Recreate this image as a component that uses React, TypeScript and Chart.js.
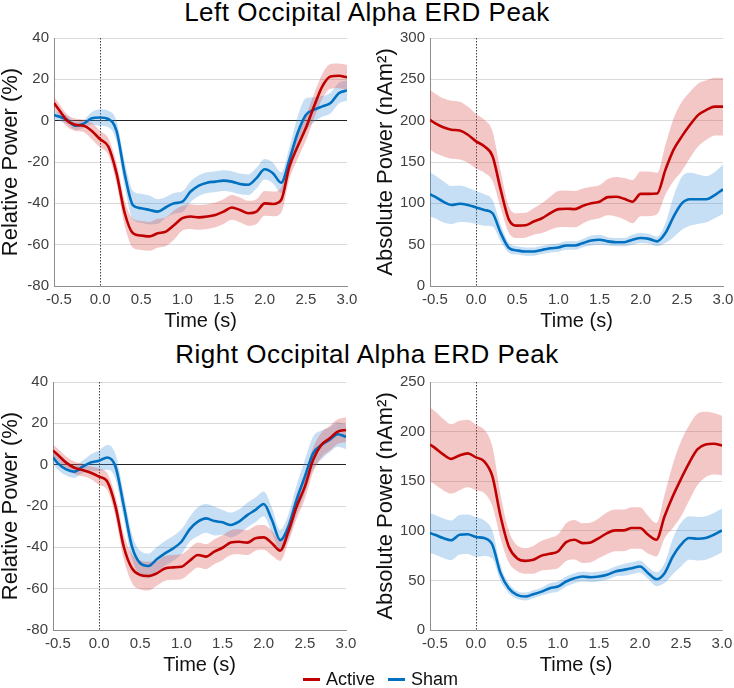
import React, { useEffect, useRef } from "react";
import { Chart, registerables } from "chart.js";

Chart.register(...registerables);

const FONT = '"Liberation Sans", Arial, Helvetica, sans-serif';

// Time axis samples (s)
const TIME = [-0.56, -0.5, -0.4, -0.3, -0.2, -0.1, 0.0, 0.1, 0.2, 0.3, 0.4, 0.5, 0.6, 0.7, 0.8, 0.9, 1.0, 1.1, 1.2, 1.3, 1.4, 1.5, 1.6, 1.7, 1.8, 1.9, 2.0, 2.1, 2.2, 2.3, 2.4, 2.5, 2.6, 2.7, 2.8, 2.9, 3.0];
const X_TICKS = [-0.5, 0.0, 0.5, 1.0, 1.5, 2.0, 2.5, 3.0];

// Left occipital, relative power (%)
const LREL_ACTIVE = [8.5, 5.3, 0, -2, -2.5, -5, -9, -12.5, -25.5, -44.8, -54.5, -55.6, -56, -54.5, -53.7, -50.5, -47.2, -46.4, -46.8, -46.4, -45.6, -44, -42, -43.2, -44.8, -44, -40, -40.3, -38.4, -22.2, -12.5, -3.6, 7, 16.6, 21.4, 21.7, 21];
const LREL_ACTIVE_ERR = [3, 3, 3, 3, 3, 4, 4, 4, 5, 6, 7, 7, 7, 7, 7, 7, 6, 6, 6, 6, 6, 6, 6, 6, 6, 6, 6, 6, 6, 6, 6, 6, 6, 6, 6, 6, 6];
const LREL_SHAM = [2.8, 2, 0.4, -2.4, -1.5, 1.2, 1.5, 0.8, -5, -26, -41, -42.4, -43.2, -44, -41.9, -40, -39.2, -34.3, -31.4, -30, -29.5, -29, -29.5, -30.6, -31, -27.8, -23.5, -25.4, -30, -19, -6, 2.8, 5.3, 6.9, 8.5, 13.3, 14.6];
const LREL_SHAM_ERR = [2, 2, 2, 2, 2, 3, 4, 4, 5, 6, 7, 7, 7, 6, 5, 5, 5, 5, 5, 5, 5, 5, 5, 5, 5, 5, 5, 5, 5, 6, 8, 8, 6, 5, 5, 5, 5];

// Left occipital, absolute power (nAm²)
const LABS_ACTIVE = [201, 197, 192, 189, 188, 183, 175, 169, 157, 116, 80, 73, 73.5, 78, 82, 88, 93, 93.5, 93, 97, 100, 102, 107.5, 108, 105.5, 102, 111.5, 111.5, 112, 140.5, 165, 181, 195, 207, 213, 217, 217];
const LABS_ACTIVE_ERR = [36, 36, 35, 35, 35, 34, 33, 32, 30, 22, 16, 15, 15, 16, 18, 20, 22, 22, 22, 21, 20, 20, 22, 24, 25, 26, 27, 27, 25, 30, 38, 42, 40, 38, 36, 35, 35];
const LABS_SHAM = [111, 108, 102, 98, 99.5, 98, 95, 92, 88, 64, 46, 43, 41.7, 41.7, 43.6, 45.6, 46.5, 49, 49, 52, 55, 56, 54, 53, 53, 56, 58, 57, 54, 64, 84, 100, 105, 105, 105, 110, 117];
const LABS_SHAM_ERR = [27, 26, 25, 23, 22, 21, 20, 19, 16, 10, 6, 5, 5, 5, 5, 5, 5, 5, 5, 5, 6, 6, 5, 5, 5, 6, 6, 6, 6, 12, 25, 32, 32, 30, 28, 28, 30];

// Right occipital, relative power (%)
const RREL_ACTIVE = [6.8, 4.7, 1, -1.5, -2.6, -3.9, -5.8, -8.2, -20.3, -39.7, -50.2, -53.4, -53.9, -52.6, -50.2, -49.7, -49.4, -46.5, -43.7, -44.5, -42.1, -40.2, -37.7, -37.3, -37.7, -35.6, -35.2, -38, -41.6, -32.4, -20.3, -10.6, 2.3, 9.5, 12.7, 16, 16.8];
const RREL_ACTIVE_ERR = [3, 3, 3, 3, 3, 3, 4, 4, 5, 6, 7, 7, 7, 6, 6, 6, 6, 6, 6, 6, 6, 6, 6, 6, 6, 6, 6, 6, 5, 5, 6, 6, 6, 6, 6, 6, 6];
const RREL_SHAM = [3.5, 0.6, -2.3, -3.4, -1, 1.1, 1.9, 3.5, -1, -20, -39.7, -47.7, -49, -45.8, -42.9, -40.5, -37.3, -31.3, -27.6, -26, -27.3, -27.9, -29.2, -27.6, -24.4, -21.9, -19, -26.8, -36.5, -30, -17, -5.8, 5.5, 9.5, 12, 14.7, 13.5];
const RREL_SHAM_ERR = [3, 3, 3, 3, 3, 4, 5, 6, 6, 6, 6, 6, 6, 6, 6, 6, 6, 6, 7, 7, 7, 6, 6, 6, 6, 6, 6, 6, 5, 6, 7, 8, 8, 7, 6, 6, 6];

// Right occipital, absolute power (nAm²)
const RABS_ACTIVE = [187, 183.6, 177, 172.5, 176, 178, 174, 170, 155, 114.6, 84.2, 72.4, 69.7, 70.8, 75, 76.8, 79.2, 88.6, 91, 87.6, 88.3, 92.7, 97.7, 100.4, 100.4, 102.8, 102.8, 96, 91, 114.6, 134.8, 152.3, 168.5, 182, 187, 187.7, 186];
const RABS_ACTIVE_ERR = [37, 37, 36, 35, 35, 34, 33, 32, 30, 22, 16, 13, 13, 14, 15, 16, 17, 19, 20, 20, 20, 20, 21, 21, 21, 21, 21, 19, 17, 22, 32, 38, 38, 36, 33, 31, 30];
const RABS_SHAM = [97.7, 96, 92.7, 90.5, 96, 96.5, 93.7, 92.7, 86, 57.3, 42.1, 35.4, 33.7, 36, 38.7, 42.1, 43.8, 48.9, 52.2, 53.9, 53.2, 53.9, 55.6, 59, 60.6, 62.3, 64, 57.3, 51.2, 57.3, 74.1, 86, 92.7, 92, 92.7, 96, 100.4];
const RABS_SHAM_ERR = [20, 20, 20, 20, 20, 20, 20, 18, 14, 8, 5, 4, 4, 4, 4, 5, 5, 5, 5, 5, 5, 5, 5, 5, 6, 6, 6, 6, 7, 10, 18, 22, 22, 22, 22, 22, 22];

const RED = "#c00000";
const BLUE = "#0070c0";
const RED_BAND = "rgba(220, 80, 80, 0.32)";
const BLUE_BAND = "rgba(70, 150, 220, 0.30)";

type Spec = {
  left: number; top: number; width: number; height: number;
  yMin: number; yMax: number; yStep: number; yTitle: string;
  yWidth: number; padRight: number; titlePad: number; zeroLine: boolean;
  active: number[]; activeErr: number[]; sham: number[]; shamErr: number[];
};

const zeroXPlugin = {
  id: "zeroX",
  beforeDatasetsDraw(chart: any) {
    const { ctx, chartArea, scales } = chart;
    const x = Math.round(scales.x.getPixelForValue(0)) + 0.5;
    ctx.save();
    ctx.strokeStyle = "#404040";
    ctx.lineWidth = 1;
    ctx.setLineDash([1.5, 1.5]);
    ctx.beginPath();
    ctx.moveTo(x, chartArea.top);
    ctx.lineTo(x, chartArea.bottom);
    ctx.stroke();
    ctx.restore();
  },
};

function Panel({ spec }: { spec: Spec }) {
  const ref = useRef<HTMLCanvasElement>(null);
  useEffect(() => {
    if (!ref.current) return;
    const pts = (arr: number[]) => arr.map((v, i) => ({ x: TIME[i], y: v }));
    const up = (m: number[], e: number[]) => m.map((v, i) => v + e[i]);
    const lo = (m: number[], e: number[]) => m.map((v, i) => v - e[i]);
    const bandBase = { pointRadius: 0, borderWidth: 1, borderColor: "transparent", cubicInterpolationMode: "monotone" as const, order: 1 };
    const lineBase = { pointRadius: 0, borderWidth: 2.6, fill: false, cubicInterpolationMode: "monotone" as const, order: 0 };
    const chart = new Chart(ref.current, {
      type: "line",
      data: {
        datasets: [
          { ...lineBase, label: "Active", data: pts(spec.active), borderColor: RED },
          { ...lineBase, label: "Sham", data: pts(spec.sham), borderColor: BLUE },
          { ...bandBase, data: pts(up(spec.active, spec.activeErr)), fill: "+1", backgroundColor: RED_BAND },
          { ...bandBase, data: pts(lo(spec.active, spec.activeErr)), fill: false },
          { ...bandBase, data: pts(up(spec.sham, spec.shamErr)), fill: "+1", backgroundColor: BLUE_BAND },
          { ...bandBase, data: pts(lo(spec.sham, spec.shamErr)), fill: false },
        ],
      } as any,
      options: {
        animation: false,
        responsive: false,
        devicePixelRatio: 1,
        layout: { padding: { top: 10, right: spec.padRight, left: 0, bottom: 0 } },
        plugins: { legend: { display: false }, tooltip: { enabled: false } },
        scales: {
          x: {
            type: "linear",
            min: -0.56,
            max: 3.0,
            afterBuildTicks: (s: any) => { s.ticks = X_TICKS.map((v) => ({ value: v })); },
            afterFit: (s: any) => { s.height = 54; s.paddingLeft = 0; s.paddingRight = 0; },
            ticks: {
              callback: (v: any) => Number(v).toFixed(1),
              font: { size: 15, family: FONT },
              color: "#404040",
              padding: 5,
              maxRotation: 0,
              autoSkip: false,
            },
            grid: { display: false, drawTicks: false },
            border: { display: true, color: "#8c8c8c", width: 1 },
            title: { display: true, text: "Time (s)", font: { size: 20, family: FONT }, color: "#111", padding: { top: 0, bottom: 7 } },
          },
          y: {
            min: spec.yMin,
            max: spec.yMax,
            afterFit: (s: any) => { s.width = spec.yWidth; s.paddingTop = 0; s.paddingBottom = 0; },
            ticks: { stepSize: spec.yStep, font: { size: 15, family: FONT }, color: "#404040", padding: 5 },
            grid: {
              drawTicks: false,
              color: (c: any) => (spec.zeroLine && c.tick && c.tick.value === 0 ? "#222" : "#d9d9d9"),
              lineWidth: 1,
            },
            border: { display: true, color: "#8c8c8c", width: 1 },
            title: { display: true, text: spec.yTitle, font: { size: 22, family: FONT, lineHeight: 1 }, color: "#111", padding: { top: spec.titlePad, bottom: 0 } },
          },
        },
      } as any,
      plugins: [zeroXPlugin],
    });
    return () => chart.destroy();
  }, [spec]);
  return (
    <canvas
      ref={ref}
      width={spec.width}
      height={spec.height}
      style={{ position: "absolute", left: spec.left, top: spec.top, width: spec.width, height: spec.height }}
    />
  );
}

const PANELS: Spec[] = [
  { left: 0, top: 28, width: 367, height: 312, yMin: -80, yMax: 40, yStep: 20, yTitle: "Relative Power (%)", yWidth: 54, padRight: 20, titlePad: 0, zeroLine: true,
    active: LREL_ACTIVE, activeErr: LREL_ACTIVE_ERR, sham: LREL_SHAM, shamErr: LREL_SHAM_ERR },
  { left: 367, top: 28, width: 367, height: 312, yMin: 0, yMax: 300, yStep: 50, yTitle: "Absolute Power (nAm\u00B2)", yWidth: 63, padRight: 11, titlePad: 8, zeroLine: false,
    active: LABS_ACTIVE, activeErr: LABS_ACTIVE_ERR, sham: LABS_SHAM, shamErr: LABS_SHAM_ERR },
  { left: 0, top: 372, width: 367, height: 312, yMin: -80, yMax: 40, yStep: 20, yTitle: "Relative Power (%)", yWidth: 53, padRight: 21, titlePad: 0, zeroLine: true,
    active: RREL_ACTIVE, activeErr: RREL_ACTIVE_ERR, sham: RREL_SHAM, shamErr: RREL_SHAM_ERR },
  { left: 367, top: 372, width: 367, height: 312, yMin: 0, yMax: 250, yStep: 50, yTitle: "Absolute Power (nAm\u00B2)", yWidth: 63, padRight: 12, titlePad: 8, zeroLine: false,
    active: RABS_ACTIVE, activeErr: RABS_ACTIVE_ERR, sham: RABS_SHAM, shamErr: RABS_SHAM_ERR },
];

const titleStyle: React.CSSProperties = {
  position: "absolute", left: 0, width: 734, textAlign: "center", fontFamily: FONT,
  fontSize: 26, lineHeight: "26px", letterSpacing: "0.5px", color: "#000", whiteSpace: "nowrap",
};

export default function App() {
  return (
    <div style={{ position: "absolute", left: 0, top: 0, width: 734, height: 688, background: "#fff", overflow: "hidden" }}>
      <div style={{ ...titleStyle, top: -1 }}>Left Occipital Alpha ERD Peak</div>
      <div style={{ ...titleStyle, top: 341 }}>Right Occipital Alpha ERD Peak</div>
      {PANELS.map((p, i) => <Panel key={i} spec={p} />)}
      <div style={{ position: "absolute", left: 303, top: 670, display: "flex", alignItems: "center", fontFamily: FONT, fontSize: 18, lineHeight: "18px", color: "#111", whiteSpace: "nowrap" }}>
        <span style={{ display: "inline-block", width: 17, height: 3, background: RED, marginRight: 6 }} />
        <span>Active</span>
        <span style={{ display: "inline-block", width: 17, height: 3, background: BLUE, marginLeft: 13, marginRight: 6 }} />
        <span>Sham</span>
      </div>
    </div>
  );
}
